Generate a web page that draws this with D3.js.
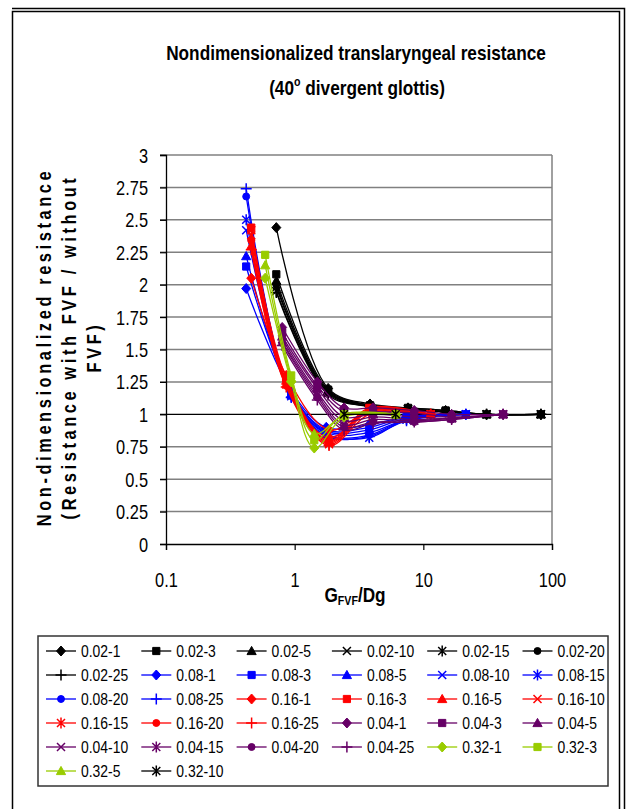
<!DOCTYPE html>
<html>
<head>
<meta charset="utf-8">
<script src="https://cdn.jsdelivr.net/npm/d3@7"></script>
<style>
  body { margin: 0; background: #fff; }
  svg { display: block; }
  text { font-family: "Liberation Sans", Arial, sans-serif; }
</style>
</head>
<body>
<svg id="chart" width="627" height="809"></svg>
<script>
// tick values
var xTicks = [0.1, 1, 10, 100];
var yTicks = [0, 0.25, 0.5, 0.75, 1, 1.25, 1.5, 1.75, 2, 2.25, 2.5, 2.75, 3];

// G_FVF/Dg positions, one list per glottal group
var xs002 = [0.72, 1.82, 3.85, 7.6, 14.9, 31, 82];
var xs008 = [0.42, 0.94, 1.76, 3.8, 7.4, 21.4];
var xs016 = [0.46, 0.86, 1.85, 3.8, 11.4];
var xs004 = [0.8, 1.5, 2.42, 4.07, 8.5, 16.6, 41.7];
var xs032 = [0.59, 0.94, 1.42, 2.42, 6.1];
var xs032b = [2.42, 6.1];

// resistance ratios
var r002_1  = [2.44, 1.20, 1.08, 1.05, 1.03, 1.00, 1.00];
var r002_3  = [2.08, 1.19, 1.07, 1.05, 1.03, 1.00, 1.00];
var r002_5  = [2.03, 1.18, 1.07, 1.04, 1.02, 1.00, 1.00];
var r002_10 = [1.98, 1.17, 1.06, 1.04, 1.02, 1.00, 1.00];
var r002_15 = [1.95, 1.16, 1.06, 1.04, 1.02, 1.00, 1.00];
var r002_20 = [2.00, 1.17, 1.07, 1.04, 1.02, 1.00, 1.00];
var r002_25 = [1.94, 1.15, 1.06, 1.03, 1.02, 1.00, 1.00];

var r008_1  = [1.97, 1.18, 0.90, 0.92, 0.98, 1.00];
var r008_3  = [2.14, 1.17, 0.88, 0.90, 0.98, 1.00];
var r008_5  = [2.22, 1.16, 0.87, 0.88, 0.97, 1.00];
var r008_10 = [2.42, 1.15, 0.86, 0.86, 0.96, 1.00];
var r008_15 = [2.50, 1.14, 0.85, 0.82, 0.96, 1.00];
var r008_20 = [2.68, 1.14, 0.84, 0.84, 0.96, 1.00];
var r008_25 = [2.74, 1.13, 0.83, 0.83, 0.95, 1.00];

var r016_1  = [2.05, 1.30, 0.88, 1.02, 1.00];
var r016_3  = [2.44, 1.28, 0.80, 1.05, 1.00];
var r016_5  = [2.30, 1.26, 0.79, 1.04, 1.00];
var r016_10 = [2.42, 1.24, 0.78, 1.03, 1.00];
var r016_15 = [2.38, 1.23, 0.77, 1.02, 1.00];
var r016_20 = [2.34, 1.22, 0.82, 1.03, 1.00];
var r016_25 = [2.27, 1.21, 0.76, 1.00, 1.00];

var r004_1  = [1.67, 1.25, 1.05, 1.05, 1.03, 1.00, 1.00];
var r004_3  = [1.63, 1.22, 1.02, 1.02, 1.01, 0.98, 1.00];
var r004_5  = [1.60, 1.20, 0.98, 1.00, 0.98, 0.97, 1.00];
var r004_10 = [1.58, 1.17, 0.95, 0.98, 0.96, 0.97, 1.00];
var r004_15 = [1.56, 1.15, 0.92, 0.96, 0.95, 0.97, 1.00];
var r004_20 = [1.55, 1.13, 0.90, 0.94, 0.94, 0.96, 1.00];
var r004_25 = [1.53, 1.11, 0.88, 0.93, 0.94, 0.96, 1.00];

var r032_1  = [2.05, 1.25, 0.74, 0.98, 1.00];
var r032_3  = [2.23, 1.30, 0.80, 1.00, 1.00];
var r032_5  = [2.15, 1.28, 0.85, 0.99, 1.00];
var r032_10 = [1.00, 1.00];

var BLACK = "#000000", BLUE = "#0000ff", RED = "#ff0000", PURPLE = "#660066", GREEN = "#99cc00";

// name, x list, y list, colour, marker
var series = [
  ["0.02-1", xs002, r002_1, BLACK, "diamond"],
  ["0.02-3", xs002, r002_3, BLACK, "square"],
  ["0.02-5", xs002, r002_5, BLACK, "triangle"],
  ["0.02-10", xs002, r002_10, BLACK, "x"],
  ["0.02-15", xs002, r002_15, BLACK, "star"],
  ["0.02-20", xs002, r002_20, BLACK, "circle"],
  ["0.02-25", xs002, r002_25, BLACK, "plus"],
  ["0.08-1", xs008, r008_1, BLUE, "diamond"],
  ["0.08-3", xs008, r008_3, BLUE, "square"],
  ["0.08-5", xs008, r008_5, BLUE, "triangle"],
  ["0.08-10", xs008, r008_10, BLUE, "x"],
  ["0.08-15", xs008, r008_15, BLUE, "star"],
  ["0.08-20", xs008, r008_20, BLUE, "circle"],
  ["0.08-25", xs008, r008_25, BLUE, "plus"],
  ["0.16-1", xs016, r016_1, RED, "diamond"],
  ["0.16-3", xs016, r016_3, RED, "square"],
  ["0.16-5", xs016, r016_5, RED, "triangle"],
  ["0.16-10", xs016, r016_10, RED, "x"],
  ["0.16-15", xs016, r016_15, RED, "star"],
  ["0.16-20", xs016, r016_20, RED, "circle"],
  ["0.16-25", xs016, r016_25, RED, "plus"],
  ["0.04-1", xs004, r004_1, PURPLE, "diamond"],
  ["0.04-3", xs004, r004_3, PURPLE, "square"],
  ["0.04-5", xs004, r004_5, PURPLE, "triangle"],
  ["0.04-10", xs004, r004_10, PURPLE, "x"],
  ["0.04-15", xs004, r004_15, PURPLE, "star"],
  ["0.04-20", xs004, r004_20, PURPLE, "circle"],
  ["0.04-25", xs004, r004_25, PURPLE, "plus"],
  ["0.32-1", xs032, r032_1, GREEN, "diamond"],
  ["0.32-3", xs032, r032_3, GREEN, "square"],
  ["0.32-5", xs032, r032_5, GREEN, "triangle"],
  ["0.32-10", xs032b, r032_10, BLACK, "star"]
];

var svg = d3.select("#chart");
var plot = { left: 166, right: 552, top: 155, bottom: 544 };
var NARROW = 0.82; // the original lettering is condensed

var x = d3.scaleLog().domain([0.1, 100]).range([plot.left, plot.right]);
var y = d3.scaleLinear().domain([0, 3]).range([plot.bottom, plot.top]);

// a group that squeezes its text horizontally
function narrowAt(parent, px, py, rot) {
  return parent.append("g").attr("transform",
    "translate(" + px + "," + py + ")" + (rot ? " rotate(" + rot + ")" : "") + " scale(" + NARROW + ",1)");
}

// outer frame
svg.append("rect").attr("x", 12.5).attr("y", 11.5).attr("width", 607).attr("height", 900)
  .attr("fill", "none").attr("stroke", "#000").attr("stroke-width", 1.5);
svg.append("path").attr("d", "M12,8.5H624.5V809").attr("fill", "none").attr("stroke", "#000").attr("stroke-width", 1.5);

// title
narrowAt(svg, 356, 60).append("text").attr("text-anchor", "middle").attr("font-weight", "bold")
  .attr("font-size", 21).text("Nondimensionalized translaryngeal resistance");
var t2 = narrowAt(svg, 357, 95).append("text").attr("text-anchor", "middle").attr("font-weight", "bold").attr("font-size", 21);
t2.append("tspan").text("(40");
t2.append("tspan").attr("font-size", 13).attr("dy", -9).text("o");
t2.append("tspan").attr("dy", 9).text(" divergent glottis)");

// gridlines
svg.append("g").selectAll("line").data(yTicks.filter(function (d) { return d > 0; })).enter().append("line")
  .attr("x1", plot.left - 6).attr("x2", plot.right)
  .attr("y1", function (d) { return y(d); }).attr("y2", function (d) { return y(d); })
  .attr("stroke", function (d) { return d === 1 ? "#000" : "#808080"; })
  .attr("stroke-width", function (d) { return d === 1 ? 1.2 : 1.5; });
svg.append("line").attr("x1", plot.right).attr("x2", plot.right).attr("y1", plot.top).attr("y2", plot.bottom)
  .attr("stroke", "#808080").attr("stroke-width", 1.5);

// axes
var yAxis = svg.append("g").attr("transform", "translate(" + plot.left + ",0)")
  .call(d3.axisLeft(y).tickValues(yTicks).tickSize(6).tickFormat(function (d) { return String(d); }));
var xAxis = svg.append("g").attr("transform", "translate(0," + plot.bottom + ")")
  .call(d3.axisBottom(x).tickValues(xTicks).tickSize(6).tickFormat(function (d) { return String(d); }));
[xAxis, yAxis].forEach(function (g) {
  g.select(".domain").attr("stroke", "#000").attr("stroke-width", 1.3);
  g.selectAll(".tick line").attr("stroke", "#000").attr("stroke-width", 1.2);
  g.selectAll(".tick text").attr("font-size", 20).attr("fill", "#000")
    .style("font-family", "'Liberation Sans', Arial, sans-serif");
});
yAxis.selectAll(".tick text").attr("x", 0).attr("dy", "0.35em")
  .attr("transform", "translate(-18,0) scale(" + NARROW + ",1)");
xAxis.selectAll(".tick text").attr("y", 0).attr("dy", 0)
  .attr("transform", "translate(0,43) scale(" + NARROW + ",1)");

// axis titles
var xt = narrowAt(svg, 355, 602).append("text").attr("text-anchor", "middle")
  .attr("font-weight", "bold").attr("font-size", 21);
xt.append("tspan").text("G");
xt.append("tspan").attr("font-size", 13).attr("dy", 3).text("FVF");
xt.append("tspan").attr("dy", -3).text("/Dg");

var yTitle = ["Non-dimensionalized resistance", "(Resistance with FVF / without", "FVF)"];
yTitle.forEach(function (d, i) {
  narrowAt(svg, 51 + i * 25, 347, -90).append("text")
    .attr("text-anchor", "middle").attr("font-weight", "bold").attr("font-size", 20)
    .attr("letter-spacing", 4.4).text(d);
});

// marker shapes
function markerPath(type) {
  switch (type) {
    case "diamond": return "M0,-5L4.5,0L0,5L-4.5,0Z";
    case "square": return "M-3.6,-3.6H3.6V3.6H-3.6Z";
    case "triangle": return "M0,-4.6L4.6,3.6H-4.6Z";
    case "circle": return d3.symbol(d3.symbolCircle, 38)();
    case "x": return "M-4,-4L4,4M-4,4L4,-4";
    case "star": return "M-4,-4L4,4M-4,4L4,-4M0,-5.5V5.5";
    case "plus": return "M-5.5,0H5.5M0,-5.5V5.5";
  }
}
function isStroked(type) { return type === "x" || type === "star" || type === "plus"; }

function drawMarker(g, type, color) {
  g.append("path").attr("d", markerPath(type))
    .attr("fill", isStroked(type) ? "none" : color)
    .attr("stroke", color).attr("stroke-width", isStroked(type) ? 1.5 : 1);
}

var line = d3.line().x(function (d) { return x(d[0]); }).y(function (d) { return y(d[1]); })
  .curve(d3.curveCatmullRom.alpha(0.5));

var gSeries = svg.append("g");
series.forEach(function (s) {
  var pts = d3.zip(s[1], s[2]);
  var g = gSeries.append("g");
  g.append("path").attr("d", line(pts)).attr("fill", "none").attr("stroke", s[3]).attr("stroke-width", 1.3);
  pts.forEach(function (p) {
    var m = g.append("g").attr("transform", "translate(" + x(p[0]) + "," + y(p[1]) + ")");
    drawMarker(m, s[4], s[3]);
  });
});

// legend
var legend = { left: 38, top: 636, right: 608, bottom: 786, rowH: 24, colW: 95.3 };
svg.append("rect").attr("x", legend.left).attr("y", legend.top)
  .attr("width", legend.right - legend.left).attr("height", legend.bottom - legend.top)
  .attr("fill", "#fff").attr("stroke", "#333").attr("stroke-width", 1.5);
series.forEach(function (s, i) {
  var col = i % 6, row = Math.floor(i / 6);
  var g = svg.append("g").attr("transform", "translate(" + (legend.left + 8 + col * legend.colW) + "," + (legend.top + 15 + row * legend.rowH) + ")");
  g.append("line").attr("x1", 0).attr("x2", 30).attr("stroke", s[3]).attr("stroke-width", 1.3);
  drawMarker(g.append("g").attr("transform", "translate(15,0)"), s[4], s[3]);
  narrowAt(g, 35, 6).append("text").attr("font-size", 17).text(s[0]);
});
</script>
</body>
</html>
